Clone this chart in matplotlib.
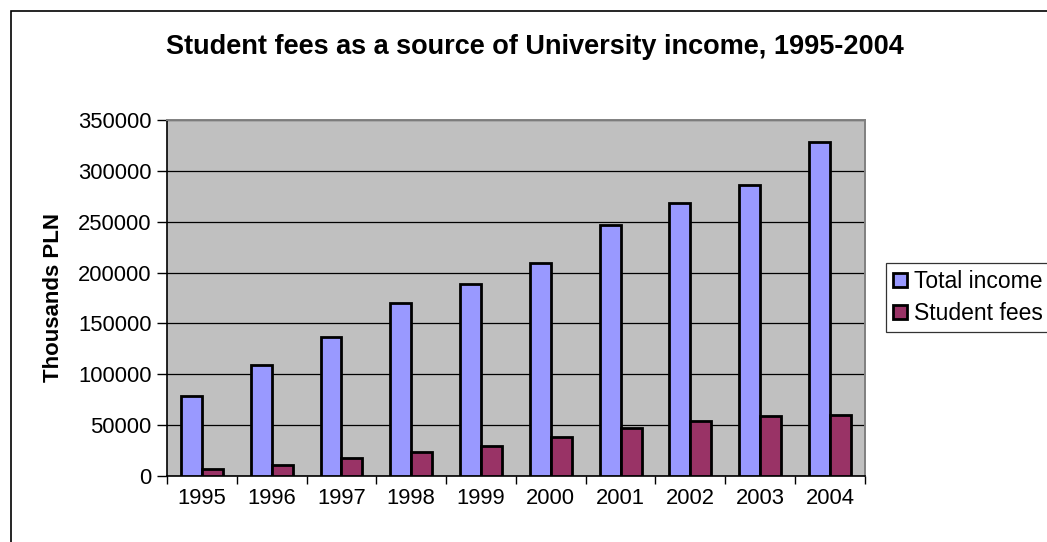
"""
Bar chart: total University income vs. student fees, 1995-2004 (thousands PLN).
"""
import matplotlib
matplotlib.use("Agg")
import matplotlib.pyplot as plt
import numpy as np
from matplotlib.patches import Rectangle
from matplotlib.ticker import FixedLocator, MultipleLocator

plt.rcParams["font.family"] = ["Liberation Sans", "DejaVu Sans"]

years = ["1995", "1996", "1997", "1998", "1999",
         "2000", "2001", "2002", "2003", "2004"]
total_income = [78600, 109400, 137000, 169700, 188400,
                209400, 247000, 268300, 285700, 328600]
student_fees = [7200, 10500, 17700, 23300, 29200,
                38300, 47500, 54100, 58700, 60000]

BLUE = "#9999FF"
PLUM = "#993366"
PANEL = "#C0C0C0"


def main():
    fig = plt.figure(figsize=(10.47, 5.42), dpi=100)
    ax = fig.add_axes([0.1595, 0.1218, 0.6665, 0.6568])

    x = np.arange(len(years))
    width = 0.3
    ax.bar(x - width / 2, total_income, width, color=BLUE,
           edgecolor="black", linewidth=2.0, label="Total income", zorder=3)
    ax.bar(x + width / 2, student_fees, width, color=PLUM,
           edgecolor="black", linewidth=2.0, label="Student fees", zorder=3)

    ax.set_facecolor(PANEL)
    ax.set_xlim(-0.5, len(years) - 0.5)
    ax.set_ylim(0, 350000)
    ax.yaxis.set_major_locator(MultipleLocator(50000))
    ax.grid(axis="y", color="black", linewidth=0.9, zorder=1)

    # category labels centred, tick marks on the category boundaries
    ax.set_xticks(x)
    ax.set_xticklabels(years)
    ax.xaxis.set_minor_locator(FixedLocator(np.arange(-0.5, len(years), 1.0)))
    ax.tick_params(axis="x", which="major", length=0, pad=9, labelsize=15.8)
    ax.tick_params(axis="x", which="minor", length=6, width=1, direction="out")
    ax.tick_params(axis="y", length=7, width=1, direction="out",
                   labelsize=15.8, pad=4)

    for side in ("top", "right"):
        ax.spines[side].set_color("#808080")
        ax.spines[side].set_linewidth(1.4)
    for side in ("left", "bottom"):
        ax.spines[side].set_color("black")
        ax.spines[side].set_linewidth(1.2)

    ax.set_ylabel("Thousands PLN", fontsize=16, fontweight="bold", labelpad=10)
    fig.text(0.511, 1 - 47 / 542, "Student fees as a source of University income, 1995-2004",
             ha="center", va="center", fontsize=19.5, fontweight="bold")

    fig.legend(loc="upper left", bbox_to_anchor=(886 / 1047, 1 - 263 / 542),
               fontsize=16.5, frameon=True, fancybox=False, edgecolor="black",
               borderpad=0.3, handlelength=0.6, handleheight=0.6,
               handletextpad=0.3, labelspacing=0.4, borderaxespad=0)
    leg = fig.legends[0]
    leg.get_frame().set_linewidth(0.9)

    # outer chart border, running off the right and bottom edges
    fig.patches.append(Rectangle((11 / 1047, -0.1), 1.2, 1.1 - 11 / 542,
                                 transform=fig.transFigure, fill=False,
                                 edgecolor="black", linewidth=1.2))

    fig.savefig("out.png", dpi=100)
    plt.close(fig)


if __name__ == "__main__":
    main()
